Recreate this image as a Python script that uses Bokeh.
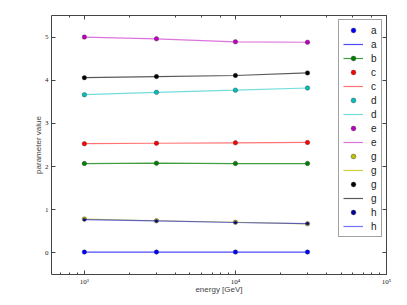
from bokeh.plotting import figure
from bokeh.models import (Range1d, LogAxis, LinearAxis, FixedTicker, LogTicker,
                          CustomJSTickFormatter, Legend, LegendItem)
from bokeh.embed import file_html
from bokeh.resources import INLINE

# ---- data ----
energy = [1e3, 3e3, 1e4, 3e4]
a_vals = [0.02, 0.02, 0.02, 0.02]
b_vals = [2.07, 2.08, 2.07, 2.07]
c_vals = [2.53, 2.54, 2.55, 2.56]
d_vals = [3.665, 3.72, 3.77, 3.82]
e_vals = [5.0, 4.96, 4.89, 4.88]
g_olive_vals = [0.785, 0.745, 0.71, 0.675]
g_black_vals = [4.06, 4.085, 4.11, 4.17]
h_vals = [0.77, 0.74, 0.705, 0.68]
y_ticks = [0, 1, 2, 3, 4, 5]

FRAME = "#444444"
TICK_FONT = "Liberation Serif"

p = figure(width=399, height=303, x_axis_type="log",
           x_range=Range1d(606, 1e5), y_range=Range1d(-0.5, 5.5),
           output_backend="svg", toolbar_location=None,
           min_border_left=51, min_border_top=15, min_border_right=13,
           min_border_bottom=29)
p.background_fill_color = "white"
p.border_fill_color = "white"
p.outline_line_color = FRAME
p.outline_line_width = 1
p.xgrid.visible = False
p.ygrid.visible = False

sup_js = """
const e = Math.round(Math.log10(tick));
const s = {"0":"\u2070","1":"\u00b9","2":"\u00b2","3":"\u00b3","4":"\u2074","5":"\u2075","6":"\u2076","7":"\u2077","8":"\u2078","9":"\u2079","-":"\u207b"};
return "10" + String(e).split("").map(c => s[c]).join("");
"""

def style_axis(ax, labels=True, minor=True):
    ax.axis_line_color = None
    ax.major_tick_in = 4
    ax.major_tick_out = 0
    ax.major_tick_line_color = FRAME
    if minor:
        ax.minor_tick_in = 2
        ax.minor_tick_out = 0
        ax.minor_tick_line_color = FRAME
    else:
        ax.minor_tick_line_color = None
    if labels:
        ax.major_label_text_font = TICK_FONT
        ax.major_label_text_font_size = "7px"
        ax.major_label_text_color = "#222222"
        ax.major_label_standoff = 4
    else:
        ax.major_label_text_font_size = "1px"
        ax.major_label_text_color = None
        ax.major_label_standoff = 0

xax = p.xaxis[0]
style_axis(xax)
xax.formatter = CustomJSTickFormatter(code=sup_js)
xax.major_label_standoff = 3
xax.axis_label = "energy [GeV]"
xax.axis_label_text_font = "Liberation Sans"
xax.axis_label_text_font_style = "normal"
xax.axis_label_text_font_size = "8px"
xax.axis_label_standoff = -4

yax = p.yaxis[0]
style_axis(yax, minor=False)
yax.ticker = FixedTicker(ticks=y_ticks)
yax.major_label_standoff = 3
yax.axis_label = "parameter value"
yax.axis_label_text_font = "Liberation Sans"
yax.axis_label_text_font_style = "normal"
yax.axis_label_text_font_size = "8px"
yax.axis_label_standoff = -1

top = LogAxis(ticker=LogTicker())
style_axis(top, labels=False)
p.add_layout(top, "above")
right = LinearAxis(ticker=FixedTicker(ticks=y_ticks))
style_axis(right, labels=False, minor=False)
p.add_layout(right, "right")

BLUE = "#0000ff"
GREEN = "#008000"
RED = "#ff0000"
CYAN = "#00bfbf"
MAG = "#bf00bf"
OLIVE = "#bfbf00"
BLACK = "#000000"

def pts(vals, color, size=4.5):
    return p.scatter(energy, vals, size=size, fill_color=color,
                     line_color="#333333", line_width=0.4)

def ln(vals, color, alpha=0.55):
    return p.line(energy, vals, line_color=color, line_width=1.2, line_alpha=alpha)

la = ln(a_vals, BLUE, 0.7); pa = pts(a_vals, BLUE)
lb = ln(b_vals, GREEN, 0.75); pb = pts(b_vals, GREEN)
lc = ln(c_vals, RED); pc = pts(c_vals, RED)
ld = ln(d_vals, CYAN); pd_ = pts(d_vals, CYAN)
le = ln(e_vals, MAG); pe = pts(e_vals, MAG)
lg1 = ln(g_olive_vals, OLIVE, 0.75); pg1 = pts(g_olive_vals, OLIVE)
lg2 = ln(g_black_vals, BLACK, 0.65); pg2 = pts(g_black_vals, BLACK)
lh = ln(h_vals, BLUE); ph = pts(h_vals, "#000099", size=3)

items = [
    LegendItem(label="a", renderers=[pa]),
    LegendItem(label="a", renderers=[la]),
    LegendItem(label="b", renderers=[lb, pb]),
    LegendItem(label="c", renderers=[pc]),
    LegendItem(label="c", renderers=[lc]),
    LegendItem(label="d", renderers=[pd_]),
    LegendItem(label="d", renderers=[ld]),
    LegendItem(label="e", renderers=[pe]),
    LegendItem(label="e", renderers=[le]),
    LegendItem(label="g", renderers=[pg1]),
    LegendItem(label="g", renderers=[lg1]),
    LegendItem(label="g", renderers=[pg2]),
    LegendItem(label="g", renderers=[lg2]),
    LegendItem(label="h", renderers=[ph]),
    LegendItem(label="h", renderers=[lh]),
]
legend = Legend(items=items, location="top_right")
legend.label_text_font = "Liberation Sans"
legend.label_text_font_size = "10px"
legend.label_text_color = "#222222"
legend.glyph_width = 20
legend.glyph_height = 12
legend.label_height = 12
legend.label_width = 6
legend.spacing = 2
legend.padding = 4
legend.margin = 4
legend.label_standoff = 8
legend.border_line_color = FRAME
legend.border_line_width = 1
legend.background_fill_color = "white"
legend.background_fill_alpha = 1
p.add_layout(legend)

open("out.html", "w").write(file_html(p, INLINE))
